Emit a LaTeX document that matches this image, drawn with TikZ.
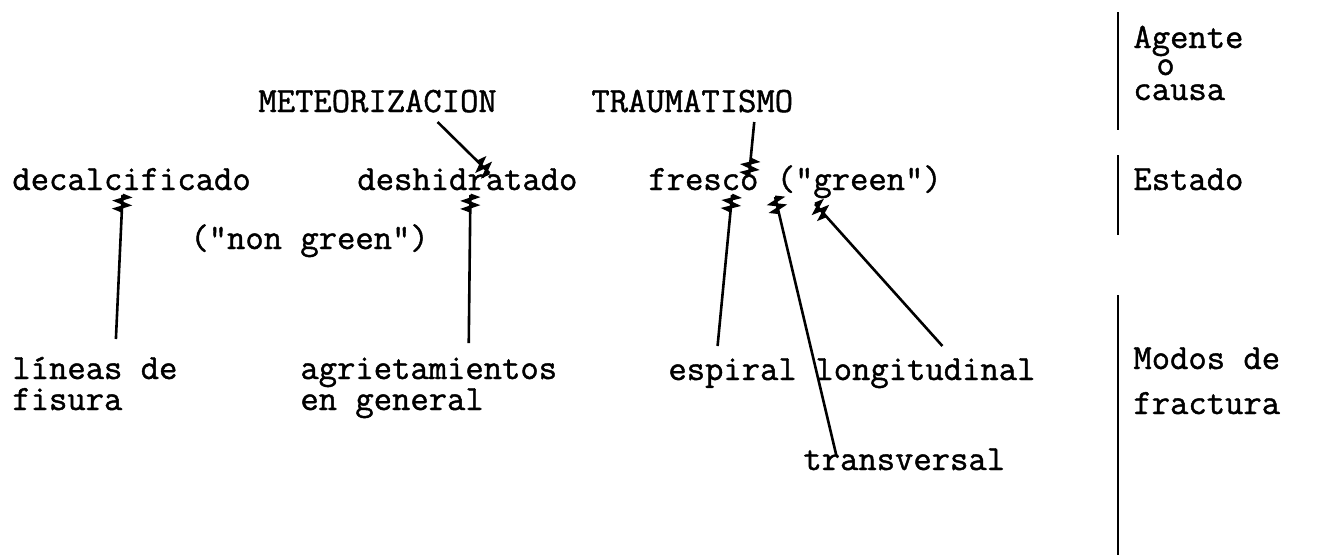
\documentclass[tikz,border=0pt]{standalone}
\usepackage{amsmath}
\usepackage{fontspec}
\usepackage{tikz}
\usetikzlibrary{decorations.markings}

\newfontfamily\typer{Latin Modern Mono}[FakeBold=1.2]

\tikzset{zig/.style={line width=1.3pt,postaction={decorate},
  decoration={markings,mark=at position 1 with {\draw[line width=1.5pt,line join=miter]
    (-8pt,0) -- (-7pt,2.8pt) -- (-5pt,-2.8pt) -- (-3pt,2.8pt) -- (-1pt,-2.8pt) -- (0,0);}}}}

\begin{document}
\begin{tikzpicture}[x=0.5pt,y=-0.5pt,every node/.style={inner sep=0pt,anchor=base west,font=\typer\fontsize{17.8}{20}\selectfont}]
\useasboundingbox (0,0) rectangle (1320,559);
\node (met) at (258, 112) {METEORIZACION};
\node (tra) at (591, 112) {TRAUMATISMO};
\node (dec) at (12, 190) {decalcificado};
\node (des) at (357, 190) {deshidratado};
\node (fre) at (648, 190) {fresco ("green")};
\node (nog) at (190, 249) {("non green")};
\node (lin) at (12, 379) {líneas de};
\node (fis) at (12, 410) {fisura};
\node (agr) at (300, 379) {agrietamientos};
\node (gen) at (300, 410) {en general};
\node (esp) at (668, 380) {espiral};
\node (lon) at (815, 380) {longitudinal};
\node (trv) at (803, 470) {transversal};
\node (age) at (1133, 48) {Agente};
\node (o) at (1156, 75) {o};
\node (cau) at (1133, 100) {causa};
\node (est) at (1133, 190) {Estado};
\node (mod) at (1133, 369) {Modos de};
\node (frc) at (1133, 414) {fractura};
\draw [zig] ([shift={(60,10)}]met.base) to ([shift={(22,-17)}]des.base);
\draw [zig] ([shift={(62,10)}]tra.base) to ([shift={(-46,-15)}]fre.base);
\draw [zig] ([shift={(21,-40)}]lin.base) to ([shift={(-9,5)}]dec.base);
\draw [zig] ([shift={(40,-36)}]agr.base) to ([shift={(3,5)}]des.base);
\draw [zig] ([shift={(-15,-34)}]esp.base) to ([shift={(-63,5)}]fre.base);
\draw [zig] ([shift={(-68,-15)}]trv.base) to ([shift={(-20,7)}]fre.base);
\draw [zig] ([shift={(17,-34)}]lon.base) to ([shift={(20,14)}]fre.base);
\draw [line width=1.3pt] (1118,12) -- (1118,130);
\draw [line width=1.3pt] (1118,155) -- (1118,235);
\draw [line width=1.3pt] (1118,295) -- (1118,555);
\end{tikzpicture}
\end{document}
